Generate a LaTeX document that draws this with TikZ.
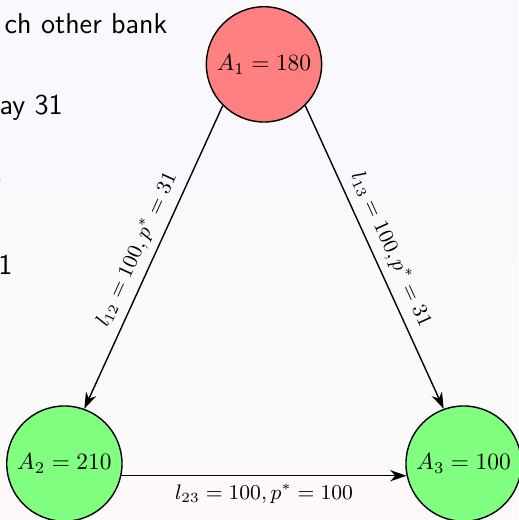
\documentclass[tikz,border=0pt]{standalone}
\usepackage{fontspec}
\usepackage{tikz}
\usetikzlibrary{arrows.meta}
\definecolor{failedc}{HTML}{FF8080}
\definecolor{solventc}{HTML}{80FF80}
\definecolor{slidetopc}{HTML}{F8F8FD}
\definecolor{slidebotc}{HTML}{FDF9F9}
\tikzset{
  bank/.style={circle, draw, semithick, minimum size=1.7cm},
  failed/.style={bank, fill=failedc},
  solvent/.style={bank, fill=solventc},
  claim/.style={semithick, -{Stealth[length=7pt,width=4.8pt,inset=2.2pt]}},
  claimlabel/.style={font=\small, midway},
  slidetext/.style={font=\fontsize{12.3}{14}\selectfont\sffamily, inner sep=0pt, anchor=base east},
}

\begin{document}
\begin{tikzpicture}
\useasboundingbox (-0.9675,-0.8475) rectangle (6.8175,6.9675);
\shade[top color=slidetopc, bottom color=slidebotc] (-0.9675,-0.8475) rectangle (6.8175,6.9675);
% slide text cut off at the left edge
\node[slidetext] (line1) at (1.553,6.458) {ch other bank};
\node[slidetext] (line2) at (-0.018,5.253) {ay 31};
\node[slidetext] (line3) at (-0.937,4.103) {0};
\node[slidetext] (line4) at (-0.772,2.843) {1};
% banks
\node[failed] (A1) at (3,6) {$A_1 = 180$};
\node[solvent] (A2) at (0,0) {$A_2 = 210$};
\node[solvent] (A3) at (6,0) {$A_3 = 100$};
% claims
\draw[claim] (A1.south west) -- node[claimlabel, above, sloped] {$l_{12} = 100, p^* = 31$} (A2.70);
\draw[claim] (A1.south east) -- node[claimlabel, above, sloped] {$l_{13} = 100, p^* = 31$} (A3.110);
\draw[claim] (A2.-12) -- node[claimlabel, below] {$l_{23} = 100, p^* = 100$} (A3.192);
\end{tikzpicture}
\end{document}
